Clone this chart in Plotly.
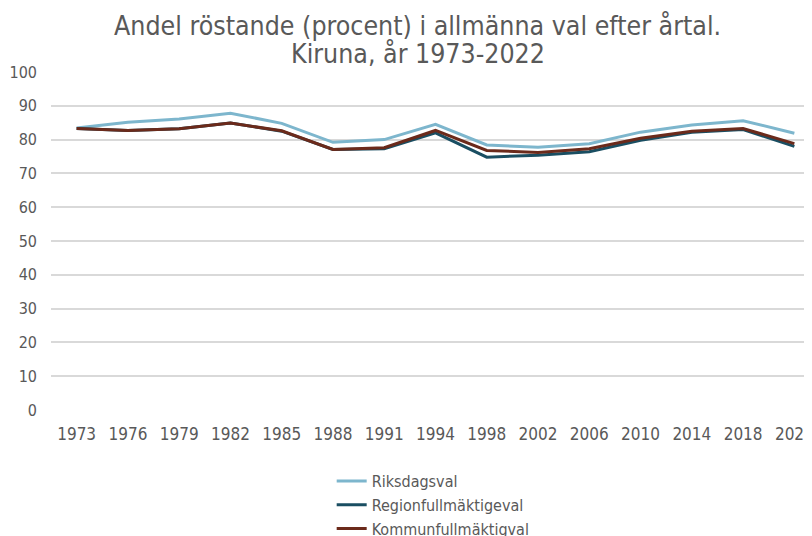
import plotly.graph_objects as go

years = ["1973", "1976", "1979", "1982", "1985", "1988", "1991", "1994",
         "1998", "2002", "2006", "2010", "2014", "2018", "2022"]
riksdagsval = [83.4, 85.1, 86.1, 87.8, 84.8, 79.2, 80.0, 84.5,
               78.4, 77.7, 78.8, 82.2, 84.3, 85.6, 81.9]
regionval = [83.3, 82.7, 83.2, 84.9, 82.5, 77.1, 77.3, 82.0,
             74.8, 75.4, 76.4, 79.8, 82.2, 83.0, 78.0]
kommunval = [83.3, 82.7, 83.2, 84.9, 82.6, 77.1, 77.6, 82.7,
             76.8, 76.2, 77.3, 80.4, 82.5, 83.3, 78.8]

title_lines = ["Andel röstande (procent) i allmänna val efter årtal.",
               "Kiruna, år 1973-2022"]
names = ["Riksdagsval", "Regionfullmäktigeval", "Kommunfullmäktigval"]
colors = ["#7DB6CD", "#1A4E62", "#6B2A1B"]
series = [riksdagsval, regionval, kommunval]

FONT = "DejaVu Sans Condensed, Liberation Sans Narrow, sans-serif"
GREY = "#595959"

fig = go.Figure()
for name, vals, col in zip(names, series, colors):
    fig.add_trace(go.Scatter(x=years, y=vals, mode="lines", name=name,
                             legendgroup=name,
                             line=dict(color=col, width=3)))

for txt, yy in zip(title_lines, [1.139, 1.056]):
    fig.add_annotation(text=txt, xref="paper", yref="paper", x=0.477, y=yy,
                       xanchor="center", yanchor="middle", showarrow=False,
                       font=dict(family=FONT, size=26.5, color=GREY))

fig.update_layout(
    width=812, height=536,
    paper_bgcolor="white", plot_bgcolor="white",
    margin=dict(l=43, r=0, t=64, b=134, autoexpand=False),
    font=dict(family=FONT, size=16, color=GREY),
    xaxis=dict(type="category", range=[-0.5, 14.5], showgrid=False,
               showline=False, ticks="", automargin=False,
               ticklabelstandoff=12,
               tickfont=dict(family=FONT, size=17, color=GREY)),
    yaxis=dict(range=[0, 100], dtick=10, showgrid=True, gridcolor="#D9D9D9",
               gridwidth=1.5, zeroline=False, showline=False, ticks="",
               automargin=False, ticklabelstandoff=13,
               tickfont=dict(family=FONT, size=16, color=GREY)),
    legend=dict(orientation="v", x=0.365, xanchor="left", y=-0.160, yanchor="top",
                font=dict(family=FONT, size=16, color=GREY), itemwidth=30,
                tracegroupgap=0, bgcolor="rgba(0,0,0,0)"),
    showlegend=True,
)

fig.write_html("out.html")
